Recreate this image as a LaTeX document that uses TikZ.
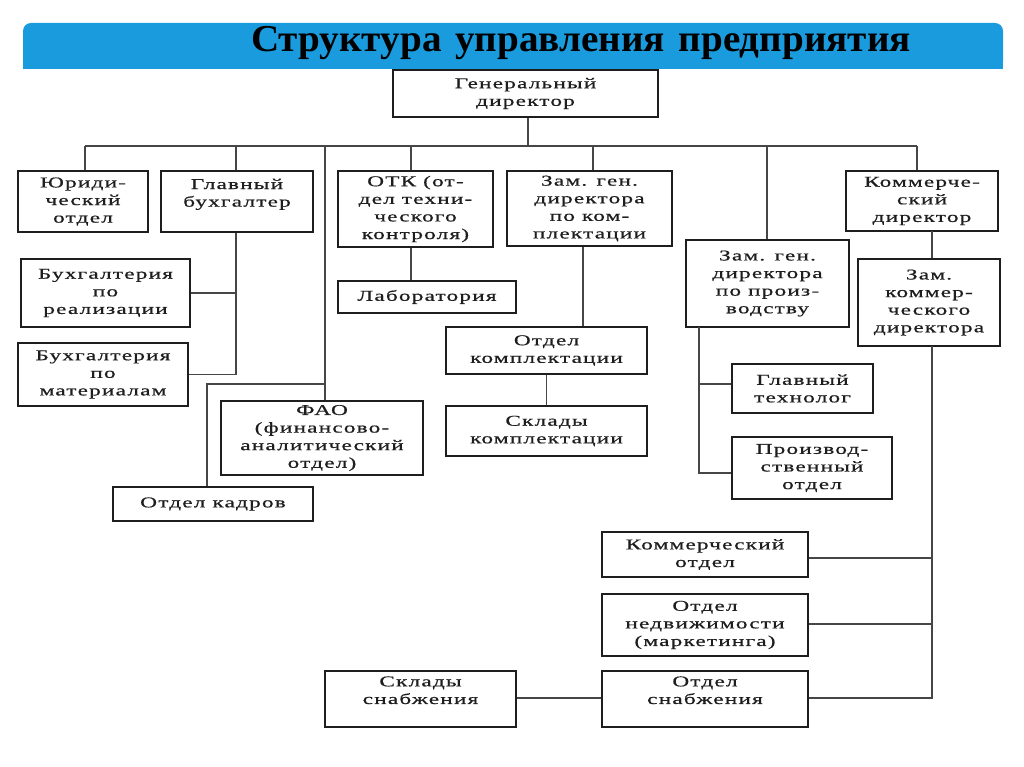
\documentclass[tikz,border=0pt]{standalone}
\usepackage{fontspec}
\newfontfamily\boxfont[FakeStretch=1.55,LetterSpace=8,FakeBold=0.6]{Liberation Serif}
\newfontfamily\titlefont[FakeStretch=1.03]{Liberation Serif}
\definecolor{bandblue}{RGB}{26,155,222}
\definecolor{ink}{RGB}{30,30,30}
\definecolor{wire}{RGB}{70,70,70}
\tikzset{
  box/.style={draw=ink, line width=1.5pt, rectangle, inner sep=0pt, align=center,
    text=ink, font=\boxfont\fontsize{15}{17.6}\selectfont},
  wirel/.style={draw=wire, line width=1.5pt}
}
\begin{document}
\begin{tikzpicture}[x=1pt,y=-1pt]
\useasboundingbox (0,0) rectangle (1024,767);
\fill[white] (0,0) rectangle (1024,767);
% header band
\fill[bandblue, rounded corners=8pt] (23,69) -- (23,23) -- (1003,23) -- (1003,69) [sharp corners] -- cycle;
\fill[bandblue] (23,50) rectangle (1003,69);
\node[anchor=base, font=\titlefont\bfseries\fontsize{38}{38}\selectfont, text=black, inner sep=0pt] (title) at (581,52) {Структура\hspace{4pt} управления\hspace{4pt} предприятия};

% boxes
\node[box, minimum width=265pt, minimum height=47pt] (gd) at (525.5,93.5) {Генеральный\\директор};
\node[box, minimum width=130pt, minimum height=61pt] (jur) at (83,201.5) {Юриди-\\ческий\\отдел};
\node[box, minimum width=152pt, minimum height=61pt] (gb) at (237,201.5) {Главный\\бухгалтер\\\mbox{}};
\node[box, minimum width=155pt, minimum height=76pt] (otk) at (415.5,209) {ОТК (от-\\дел техни-\\ческого\\контроля)};
\node[box, minimum width=165pt, minimum height=75pt] (zk) at (589.5,208.5) {Зам. ген.\\директора\\по ком-\\плектации};
\node[box, minimum width=152pt, minimum height=60pt] (kd) at (922,201) {Коммерче-\\ский\\директор};
\node[box, minimum width=163pt, minimum height=87pt] (zp) at (767.5,283.5) {Зам. ген.\\директора\\по произ-\\водству};
\node[box, minimum width=142pt, minimum height=87pt] (zkom) at (929,302.5) {Зам.\\коммер-\\ческого\\директора};
\node[box, minimum width=169pt, minimum height=68pt] (br) at (105.5,293) {Бухгалтерия\\по\\реализации};
\node[box, minimum width=170pt, minimum height=63pt] (bm) at (103,374.5) {Бухгалтерия\\по\\материалам};
\node[box, minimum width=178pt, minimum height=32pt] (lab) at (427,297) {Лаборатория};
\node[box, minimum width=201pt, minimum height=47pt] (ok) at (546.5,350.5) {Отдел\\комплектации};
\node[box, minimum width=201pt, minimum height=50pt] (sk) at (546.5,431) {Склады\\комплектации};
\node[box, minimum width=141pt, minimum height=49pt] (gt) at (802.5,388.5) {Главный\\технолог};
\node[box, minimum width=160pt, minimum height=62pt] (po) at (812,468) {Производ-\\ственный\\отдел};
\node[box, minimum width=202pt, minimum height=74pt] (fao) at (322,438) {ФАО\\(финансово-\\аналитический\\отдел)};
\node[box, minimum width=200pt, minimum height=34pt] (kadr) at (213,504) {Отдел кадров};
\node[box, minimum width=206pt, minimum height=45pt] (ko) at (705,554.5) {Коммерческий\\отдел};
\node[box, minimum width=206pt, minimum height=62pt] (on) at (705,625) {Отдел\\недвижимости\\(маркетинга)};
\node[box, minimum width=206pt, minimum height=56pt] (os) at (705,699) {Отдел\\снабжения\\\mbox{}};
\node[box, minimum width=191pt, minimum height=56pt] (ss) at (420.5,699) {Склады\\снабжения\\\mbox{}};

% bus coordinates
\coordinate (bjur) at (85,146);
\coordinate (bgb) at (236,146);
\coordinate (bfao) at (325,146);
\coordinate (botk) at (411,146);
\coordinate (bgd) at (528,146);
\coordinate (bzk) at (593,146);
\coordinate (bzp) at (767,146);
\coordinate (bkd) at (917,146);
\coordinate (kfork) at (325,384);
\coordinate (kbend) at (207,384);
\coordinate (zpbot) at (699,327);
\coordinate (zpgt) at (699,384);
\coordinate (zppo) at (699,473);
\coordinate (kdbot) at (932,231);
\coordinate (zkbot) at (932,346);
\coordinate (zkko) at (932,558);
\coordinate (zkon) at (932,624);
\coordinate (zkos) at (932,698);

% connectors
\draw[wirel] (bgd |- gd.south) -- (bgd);
\draw[wirel] (bjur) -- (bkd);
\draw[wirel] (bjur) -- (bjur |- jur.north);
\draw[wirel] (bgb) -- (bgb |- gb.north);
\draw[wirel] (botk) -- (botk |- otk.north);
\draw[wirel] (bzk) -- (bzk |- zk.north);
\draw[wirel] (bzp) -- (bzp |- zp.north);
\draw[wirel] (bkd) -- (bkd |- kd.north);
\draw[wirel] (bfao) -- (bfao |- fao.north);
\draw[wirel] (kfork) -- (kbend) -- (kbend |- kadr.north);
% chief accountant
\draw[wirel] (bgb |- gb.south) -- (bgb |- bm.east) -- (bm.east);
\draw[wirel] (br.east) -- (bgb |- br.east);
% OTK
\draw[wirel] (botk |- otk.south) -- (botk |- lab.north);
% komplektacii
\draw[wirel] ([xshift=-6.5pt]zk.south) -- ([xshift=-6.5pt]zk.south |- ok.north);
\draw[wirel] (ok.south) -- (sk.north);
% production
\draw[wirel] (zpbot) -- (zppo) -- (zppo -| po.west);
\draw[wirel] (zpgt) -- (zpgt -| gt.west);
% commercial
\draw[wirel] (kdbot) -- (zkbot |- zkom.north);
\draw[wirel] (zkbot) -- (zkos) -- (zkos -| os.east);
\draw[wirel] (zkko) -- (zkko -| ko.east);
\draw[wirel] (zkon) -- (zkon -| on.east);
\draw[wirel] (ss.east |- zkos) -- (os.west |- zkos);
\end{tikzpicture}
\end{document}
